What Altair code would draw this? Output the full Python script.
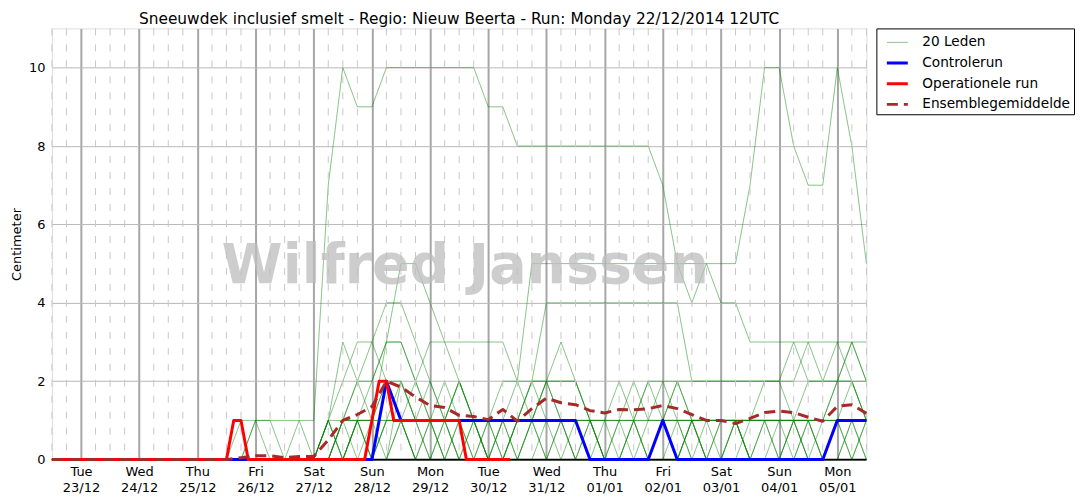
import json
import pandas as pd
import altair as alt

# ---------------- data ----------------
TITLE = "Sneeuwdek inclusief smelt - Regio: Nieuw Beerta - Run: Monday 22/12/2014 12UTC"
Y_TITLE = "Centimeter"
WATERMARK = "Wilfred Janssen"

SERIES = ["20 Leden", "Controlerun", "Operationele run", "Ensemblegemiddelde"]

day_names = ["Tue", "Wed", "Thu", "Fri", "Sat", "Sun", "Mon",
             "Tue", "Wed", "Thu", "Fri", "Sat", "Sun", "Mon"]
day_dates = ["23/12", "24/12", "25/12", "26/12", "27/12", "28/12", "29/12",
             "30/12", "31/12", "01/01", "02/01", "03/01", "04/01", "05/01"]
first_day_hour = 12          # Tue 23/12 00UTC = run start (22/12 12UTC) + 12 h
step_hours = 6               # ensemble, control and mean
oper_step_hours = 3          # operational run
total_hours = 336

Z = [0] * 14
members = {
    "m01": [0]*13 + [1] + [1,1,1,1] + [1,7,10,9] + [9,10,10,10] + [10,10,10,10] + [9,9,8,8] + [8,8,8,8] + [8,8,8,8] + [7,5,4,5] + [5,5,7,10] + [10,8,7,7] + [10,8,5],
    "m02": Z + [0,0,0,0] + [0,0,1,2] + [3,2,1,0] + [0,0,0,0] + [0,1,2,5] + [5,5,5,5] + [5,5,5,5] + [5,5,5,5] + [4,4,3,3] + [3,3,3,3] + [3,3,3],
    "m03": Z + [0,0,0,0] + [0,0,1,1] + [1,3,5,5] + [4,3,2,1] + [0,0,1,2] + [4,4,4,4] + [4,4,4,4] + [4,4,2,2] + [2,2,2,2] + [2,3,2,2] + [2,2,1],
    "m04": Z + [0,0,0,0] + [0,1,2,3] + [3,4,4,3] + [2,1,0,0] + [0,0,1,2] + [2,2,2,1] + [0,0,0,0] + [1,2,1,1] + [1,1,1,2] + [2,2,3,2] + [2,3,2],
    "m05": Z + [0,0,0,0] + [0,0,1,2] + [2,3,3,2] + [3,3,3,3] + [3,3,2,1] + [0,1,1,1] + [1,1,1,1] + [1,1,1,1] + [1,1,1,1] + [1,1,1,1] + [1,1,1],
    "m06": Z + [1,1,0,1] + [0,1,3,2] + [1,0,1,2] + [1,0,0,0] + [0,0,1,1] + [2,3,2,1] + [0,1,2,1] + [1,1,1,1] + [1,1,1,1] + [1,1,1,1] + [1,1,1],
    "m07": Z + [0,0,0,0] + [0,0,0,1] + [2,3,3,2] + [1,2,1,0] + [1,2,2,2] + [2,2,2,1] + [0,0,0,1] + [2,2,2,2] + [2,2,2,2] + [2,1,1,1] + [2,3,2],
    "m08": Z + [0,0,0,0] + [0,1,0,1] + [1,1,1,1] + [1,1,1,1] + [1,1,1,1] + [1,1,1,1] + [1,1,1,1] + [1,1,1,1] + [1,1,1,1] + [1,1,1,1] + [1,1,1],
    "m09": Z + [0,0,0,0] + [0,0,1,1] + [1,2,1,0] + [1,1,0,1] + [1,1,1,1] + [1,1,1,1] + [1,1,1,0] + [1,1,1,1] + [1,1,1,1] + [1,1,1,1] + [1,1,1],
    "m10": Z + [0,0,0,0] + [0,1,0,0] + [1,1,2,1] + [0,1,2,1] + [0,1,0,1] + [0,1,0,1] + [0,0,1,2] + [1,0,1,1] + [0,0,1,1] + [0,1,1,0] + [1,0,1],
    "m11": Z + [0,0,0,0] + [0,0,0,1] + [0,1,1,1] + [1,0,1,1] + [0,0,1,2] + [1,0,1,1] + [1,2,1,0] + [1,2,1,0] + [0,1,0,1] + [1,0,0,1] + [2,2,1],
    "m12": Z + [0,0,0,0] + [0,1,0,1] + [0,0,1,0] + [1,1,0,0] + [1,0,0,1] + [2,1,0,0] + [1,0,1,2] + [2,1,0,1] + [1,1,0,0] + [1,1,2,2] + [3,2,1],
    "m13": Z + [0,0,0,0] + [0,0,0,1] + [1,2,2,1] + [2,1,2,1] + [0,1,0,0] + [1,1,1,0] + [0,1,0,0] + [1,0,1,0] + [1,1,0,1] + [0,1,0,0] + [1,0,1],
    "m14": Z + [0,0,0,0] + [0,0,0,0] + [0,0,2,1] + [0,1,2,1] + [0,0,0,1] + [2,1,0,0] + [0,0,0,0] + [0,0,1,0] + [0,1,0,0] + [0,0,1,0] + [0,1,0],
    "m15": Z + [0,0,0,0] + [0,0,0,0] + [0,1,1,1] + [1,0,0,1] + [1,0,0,0] + [0,0,0,0] + [0,0,0,0] + [0,1,0,0] + [1,1,1,1] + [1,1,0,0] + [1,2,2],
    "m16": Z + [0,0,0,0] + [0,1,1,1] + [0,0,0,0] + [0,0,0,0] + [0,0,0,0] + [0,0,0,0] + [0,0,0,0] + [0,0,0,0] + [0,0,0,0] + [0,0,1,0] + [0,0,0],
    "m17": Z + [0,0,0,0] + [0,0,0,0] + [0,0,0,0] + [0,0,0,0] + [0,0,0,0] + [0,0,0,0] + [0,0,0,0] + [0,0,0,0] + [0,0,0,0] + [0,0,0,0] + [0,0,0],
    "m18": Z + [1,0,0,0] + [0,0,0,0] + [0,0,0,0] + [0,0,0,0] + [0,0,0,0] + [0,0,0,0] + [0,0,0,0] + [0,0,0,0] + [0,0,0,0] + [0,0,0,0] + [0,0,0],
    "m19": Z + [0,0,0,0] + [0,0,1,0] + [0,1,1,0] + [0,0,1,0] + [0,0,0,0] + [0,0,0,1] + [0,0,1,0] + [0,0,1,0] + [0,1,0,0] + [0,1,0,0] + [0,1,0],
    "m20": Z + [0,0,0,0] + [0,0,0,0] + [0,0,0,0] + [0,0,0,0] + [0,0,0,0] + [0,0,0,0] + [0,0,0,0] + [0,0,0,0] + [0,0,0,0] + [0,0,0,0] + [0,0,0],
}

control = [0]*23 + [2] + [1]*13 + [0]*5 + [1] + [0]*11 + [1, 1, 1]

operational = [0]*25 + [1, 1] + [0]*17 + [1, 2, 2] + [1]*10 + [0]*7

ens_mean = [0]*12 + [0.0, 0.05, 0.1, 0.1, 0.05, 0.08,
                     0.08, 0.5, 1.0, 1.15,
                     1.35, 2.0, 1.85, 1.6,
                     1.38, 1.33, 1.13, 1.1,
                     1.02, 1.28, 0.98, 1.3,
                     1.57, 1.45, 1.4, 1.25,
                     1.19, 1.28, 1.27, 1.3,
                     1.38, 1.3, 1.15, 1.0,
                     1.0, 0.92, 1.05, 1.2,
                     1.24, 1.2, 1.08, 0.98,
                     1.36, 1.4, 1.18]

# ---------------- tables ----------------
rows = []
for name, vals in members.items():
    for i, v in enumerate(vals):
        rows.append({"h": i * step_hours, "v": v, "member": name, "series": SERIES[0]})
df_members = pd.DataFrame(rows)
df_control = pd.DataFrame({"h": [i * step_hours for i in range(len(control))],
                           "v": control, "series": SERIES[1]})
df_oper = pd.DataFrame({"h": [i * oper_step_hours for i in range(len(operational))],
                        "v": operational, "series": SERIES[2]})
df_mean = pd.DataFrame({"h": [i * step_hours for i in range(len(ens_mean))],
                        "v": ens_mean, "series": SERIES[3]})

day_hours = [first_day_hour + 24 * k for k in range(len(day_names))]
minor_hours = [h for h in range(0, total_hours + 1, step_hours)
               if (h - first_day_hour) % 24 != 0]
df_minor = pd.DataFrame({"h": minor_hours})

# ---------------- styling ----------------
W, H = 816, 432
FONT = "DejaVu Sans"
COLORS = ["#008000", "#0000ff", "#ff0000", "#a52a2a"]
WIDTHS = [1, 3, 3, 3]
DASHES = [[1, 0], [1, 0], [1, 0], [11, 6]]
OPAC = [0.5, 1, 1, 1]

label_expr = ("[" + json.dumps(day_names) + "[round((datum.value-%d)/24)], "
              % first_day_hour + json.dumps(day_dates) +
              "[round((datum.value-%d)/24)]]" % first_day_hour)

x_enc = alt.X("h:Q", scale=alt.Scale(domain=[0, total_hours], nice=False, zero=False),
              axis=alt.Axis(values=day_hours, labelExpr=label_expr, title=None,
                            grid=True, gridColor="#a6a6a6", gridWidth=2,
                            ticks=False, domain=False, labelPadding=6,
                            labelLineHeight=16, labelFontSize=13, labelFont=FONT,
                            labelColor="black", labelAngle=0))
y_enc = alt.Y("v:Q", scale=alt.Scale(domain=[0, 11], nice=False),
              axis=alt.Axis(values=[0, 2, 4, 6, 8, 10], title=Y_TITLE,
                            grid=True, gridColor="#b8b8b8", gridWidth=1,
                            ticks=False, domain=False, labelPadding=7,
                            labelFontSize=13, labelFont=FONT, labelColor="black",
                            titleFont=FONT, titleFontSize=13, titleFontWeight="normal",
                            titleColor="black", titlePadding=5))

legend = alt.Legend(title=None, orient="right", offset=8, strokeColor="black",
                    fillColor="white", padding=3, labelFont=FONT, labelFontSize=13.7,
                    labelColor="black", symbolType="stroke", symbolSize=441,
                    symbolOffset=6, labelOffset=13, rowPadding=1.7, labelLimit=300,
                    cornerRadius=0)

def style(**kw):
    return dict(
        color=alt.Color("series:N", scale=alt.Scale(domain=SERIES, range=COLORS), legend=legend),
        strokeWidth=alt.StrokeWidth("series:N", scale=alt.Scale(type="ordinal", domain=SERIES, range=WIDTHS), legend=legend),
        strokeDash=alt.StrokeDash("series:N", scale=alt.Scale(domain=SERIES, range=DASHES), legend=legend),
        opacity=alt.Opacity("series:N", scale=alt.Scale(type="ordinal", domain=SERIES, range=OPAC), legend=legend),
        **kw,
    )

minor = alt.Chart(df_minor).mark_rule(color="#c8c8c8", strokeWidth=1, strokeDash=[7, 9]).encode(
    x=alt.X("h:Q"))

wm = alt.Chart(pd.DataFrame({"t": [WATERMARK]})).mark_text(
    font=FONT, fontSize=55.5, fontWeight="bold", color="#bdbdbd", opacity=0.75,
    align="center", baseline="alphabetic").encode(
    x=alt.datum(170.5), y=alt.datum(4.5), text="t:N")

zero_line = alt.Chart(pd.DataFrame({"v": [0]})).mark_rule(color="black", strokeWidth=1.6).encode(
    y="v:Q")

base_mark = dict(strokeJoin="round", strokeCap="butt")
l_members = alt.Chart(df_members).mark_line(**base_mark).encode(
    x=x_enc, y=y_enc, **style(detail="member:N"))
l_control = alt.Chart(df_control).mark_line(**base_mark).encode(x="h:Q", y="v:Q", **style())
l_oper = alt.Chart(df_oper).mark_line(**base_mark).encode(x="h:Q", y="v:Q", **style())
l_mean = alt.Chart(df_mean).mark_line(**base_mark).encode(x="h:Q", y="v:Q", **style())

chart = alt.layer(l_members, minor, wm, zero_line, l_control, l_oper, l_mean).properties(
    width=W, height=H,
    title=alt.TitleParams(TITLE, font=FONT, fontSize=15.4, fontWeight="normal",
                          color="black", anchor="middle", offset=1),
    autosize=alt.AutoSizeParams(type="none"),
    padding={"left": 44, "top": 20, "right": 210, "bottom": 36},
).configure_view(stroke="black", strokeWidth=1.2).configure(background="white")

chart.save("out.html", embed_options={"renderer": "svg", "actions": False})
